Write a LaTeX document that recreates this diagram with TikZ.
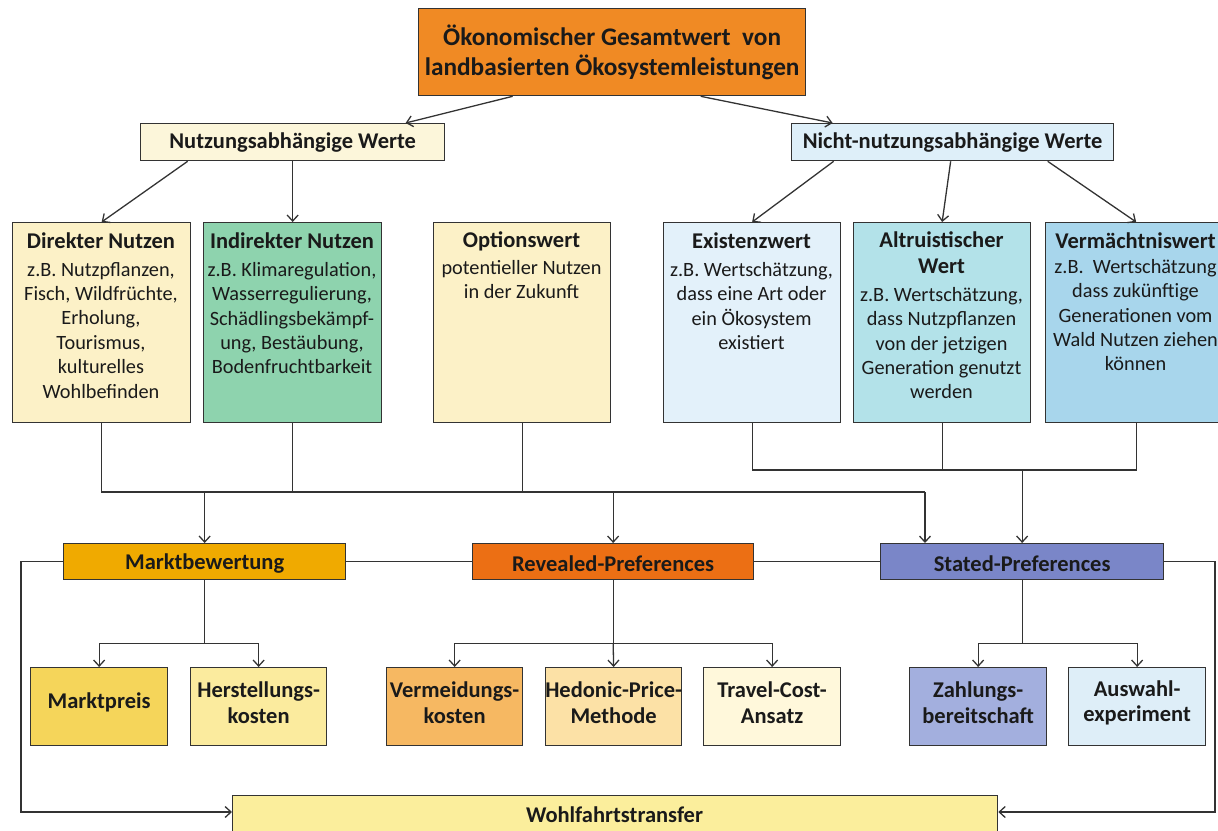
\documentclass[tikz,border=0pt]{standalone}
\usepackage{fontspec}
\setmainfont{Carlito}
\usetikzlibrary{arrows.meta}
\definecolor{ctop}{HTML}{F08A24}
\definecolor{cnutz}{HTML}{FCF6DA}
\definecolor{cnicht}{HTML}{DEEFF9}
\definecolor{ccream}{HTML}{FCF1C7}
\definecolor{cgreen}{HTML}{8ED3AE}
\definecolor{cexist}{HTML}{E3F1FA}
\definecolor{caltru}{HTML}{B3E2E9}
\definecolor{cverm}{HTML}{A8D6EC}
\definecolor{cmarkt}{HTML}{F0AA00}
\definecolor{creveal}{HTML}{EC6F14}
\definecolor{cstated}{HTML}{7A86C8}
\definecolor{cmpreis}{HTML}{F5D55A}
\definecolor{cherst}{HTML}{FBEB9E}
\definecolor{cvermeid}{HTML}{F6B862}
\definecolor{chedon}{HTML}{FCE1A6}
\definecolor{ctravel}{HTML}{FFF8DB}
\definecolor{czahl}{HTML}{A3AFDE}
\definecolor{causw}{HTML}{DEEEF8}
\definecolor{cwohl}{HTML}{FBEE9C}
\definecolor{cline}{HTML}{333333}
\definecolor{ctext}{HTML}{1A1A1A}
\begin{document}
\begin{tikzpicture}[x=1pt,y=-1pt,
  box/.style={draw=cline, line width=1.3pt, rectangle, inner sep=0pt, anchor=north west},
  ttl/.style={font=\bfseries\fontsize{22.5}{26}\selectfont, text=ctext, align=center, inner sep=0pt},
  bdy/.style={font=\fontsize{20.3}{24.4}\selectfont, text=ctext, align=center, inner sep=0pt, anchor=north},
  lbl/.style={font=\bfseries\fontsize{22.5}{25.5}\selectfont, text=ctext, align=center, inner sep=0pt},
  conn/.style={draw=cline, line width=1.3pt},
  arr/.style={conn, -{Straight Barb[length=6pt,width=11pt,line width=1.3pt]}}
]
\useasboundingbox (0,0) rectangle (1218,830);
% top
\node[box, fill=ctop, minimum width=387pt, minimum height=87pt] (top) at (418,8) {};
\node[lbl, font=\bfseries\fontsize{25.3}{30}\selectfont] (topt) at (top.center) {Ökonomischer Gesamtwert\ \ von\\landbasierten Ökosystemleistungen};
% second level
\node[box, fill=cnutz, minimum width=304pt, minimum height=37pt] (nu) at (140,123) {};
\node[lbl] (nut) at (nu.center) {Nutzungsabhängige Werte};
\node[box, fill=cnicht, minimum width=322pt, minimum height=37pt] (ni) at (791,123) {};
\node[lbl] (nit) at (ni.center) {Nicht-nutzungsabhängige Werte};
% third level boxes
\node[box, fill=ccream, minimum width=178pt, minimum height=200pt] (dn) at (12,222) {};
\node[box, fill=cgreen, minimum width=178pt, minimum height=200pt] (in) at (203,222) {};
\node[box, fill=ccream, minimum width=177pt, minimum height=200pt] (ow) at (433,222) {};
\node[box, fill=cexist, minimum width=177pt, minimum height=200pt] (ex) at (663,222) {};
\node[box, fill=caltru, minimum width=177pt, minimum height=200pt] (al) at (853,222) {};
\node[box, fill=cverm, minimum width=181pt, minimum height=200pt] (vm) at (1045,222) {};
% third level texts
\node[ttl] (dnt) at (101,241) {Direkter Nutzen};
\node[bdy] (dnb) at (101,262) {z.B. Nutzpflanzen,\\Fisch, Wildfrüchte,\\Erholung,\\Tourismus,\\kulturelles\\Wohlbefinden};
\node[ttl] (int) at (292,241) {Indirekter Nutzen};
\node[bdy] (inb) at (292,262) {z.B. Klimaregulation,\\Wasserregulierung,\\Schädlingsbekämpf-\\ung, Bestäubung,\\Bodenfruchtbarkeit};
\node[ttl] (owt) at (521.5,241) {Optionswert};
\node[bdy] (owb) at (521.5,260) {potentieller Nutzen\\in der Zukunft};
\node[ttl] (ext) at (751.5,241) {Existenzwert};
\node[bdy] (exb) at (751.5,262) {z.B. Wertschätzung,\\dass eine Art oder\\ein Ökosystem\\existiert};
\node[ttl, anchor=north] (alt) at (941.5,231) {Altruistischer\\Wert};
\node[bdy] (alb) at (941.5,287) {z.B. Wertschätzung,\\dass Nutzpflanzen\\von der jetzigen\\Generation genutzt\\werden};
\node[ttl] (vmt) at (1135.5,241) {Vermächtniswert};
\node[bdy] (vmb) at (1135.5,259) {z.B.\ \ Wertschätzung\\dass zukünftige\\Generationen vom\\Wald Nutzen ziehen\\können};
% method row
\node[box, fill=cmarkt, minimum width=282pt, minimum height=36pt] (mb) at (63,543) {};
\node[lbl] (mbt) at ([yshift=-2pt]mb.center) {Marktbewertung};
\node[box, fill=creveal, minimum width=281pt, minimum height=36pt] (rp) at (472,543) {};
\node[lbl] (rpt) at ([yshift=-2pt]rp.center) {Revealed-Preferences};
\node[box, fill=cstated, minimum width=283pt, minimum height=36pt] (sp) at (880,543) {};
\node[lbl] (spt) at ([yshift=-2pt]sp.center) {Stated-Preferences};
% leaves
\node[box, fill=cmpreis, minimum width=137pt, minimum height=78pt] (mp) at (30,667) {};
\node[lbl] (mpt) at ([yshift=4pt]mp.center) {Marktpreis};
\node[box, fill=cherst, minimum width=136pt, minimum height=78pt] (hk) at (190,667) {};
\node[lbl] (hkt) at ([yshift=4pt]hk.center) {Herstellungs-\\kosten};
\node[box, fill=cvermeid, minimum width=136pt, minimum height=78pt] (vk) at (386,667) {};
\node[lbl] (vkt) at ([yshift=4pt]vk.center) {Vermeidungs-\\kosten};
\node[box, fill=chedon, minimum width=136pt, minimum height=78pt] (hp) at (545,667) {};
\node[lbl] (hpt) at ([yshift=4pt]hp.center) {Hedonic-Price-\\Methode};
\node[box, fill=ctravel, minimum width=137pt, minimum height=78pt] (tc) at (703,667) {};
\node[lbl] (tct) at ([yshift=4pt]tc.center) {Travel-Cost-\\Ansatz};
\node[box, fill=czahl, minimum width=137pt, minimum height=78pt] (zb) at (909,667) {};
\node[lbl] (zbt) at ([yshift=4pt]zb.center) {Zahlungs-\\bereitschaft};
\node[box, fill=causw, minimum width=137pt, minimum height=78pt] (aw) at (1068,667) {};
\node[lbl] (awt) at ([yshift=4pt]aw.center) {Auswahl-\\experiment};
% bottom
\node[box, fill=cwohl, minimum width=765pt, minimum height=50pt] (wt) at (232,795) {};
\node[lbl] (wtt) at (614.5,815) {Wohlfahrtstransfer};
% connectors top
\draw[arr] ([xshift=-99.5pt]top.south) -- ([xshift=113pt]nu.north);
\draw[arr] ([xshift=88.5pt]top.south) -- ([xshift=-120pt]ni.north);
\draw[arr] ([xshift=-105pt]nu.south) -- (dn.north);
\draw[arr] (nu.south) -- (in.north);
\draw[arr] ([xshift=-119pt]ni.south) -- (ex.north);
\draw[arr] ([xshift=-2pt]ni.south) -- (al.north);
\draw[arr] ([xshift=95pt]ni.south) -- (vm.north);
% merge to methods
\coordinate (h1) at (925,492);
\coordinate (h2) at (0,470);
\draw[conn] (dn.south) |- (h1);
\draw[conn] (in.south) -- (in.south |- h1);
\draw[conn] (ow.south) -- (ow.south |- h1);
\draw[arr] (mb.north |- h1) -- (mb.north);
\draw[arr] (rp.north |- h1) -- (rp.north);
\draw[arr] (h1) -- (h1 |- sp.north);
\draw[conn] (ex.south) -- (ex.south |- h2) -| (vm.south);
\draw[conn] (al.south) -- (al.south |- h2);
\draw[arr] (sp.north |- h2) -- (sp.north);
% method row links
\draw[conn] (mb.east) -- (rp.west);
\draw[conn] (rp.east) -- (sp.west);
\coordinate (lw) at (21,812);
\coordinate (rw) at (1215,812);
\draw[arr] (mb.west) -| (lw) -- (lw -| wt.west);
\draw[arr] (sp.east) -| (rw) -- (rw -| wt.east);
% leaves connectors
\draw[conn] (mb.south) -- ++(0,63) coordinate (m1);
\draw[arr] (m1) -| (mp.north);
\draw[arr] (m1) -| (hk.north);
\draw[conn] (rp.south) -- ++(0,63) coordinate (r1);
\draw[arr] (r1) -| (vk.north);
\draw[arr] (r1) -- (hp.north);
\draw[arr] (r1) -| (tc.north);
\draw[conn] (sp.south) -- ++(0,63) coordinate (s1);
\draw[arr] (s1) -| (zb.north);
\draw[arr] (s1) -| (aw.north);
\end{tikzpicture}
\end{document}
